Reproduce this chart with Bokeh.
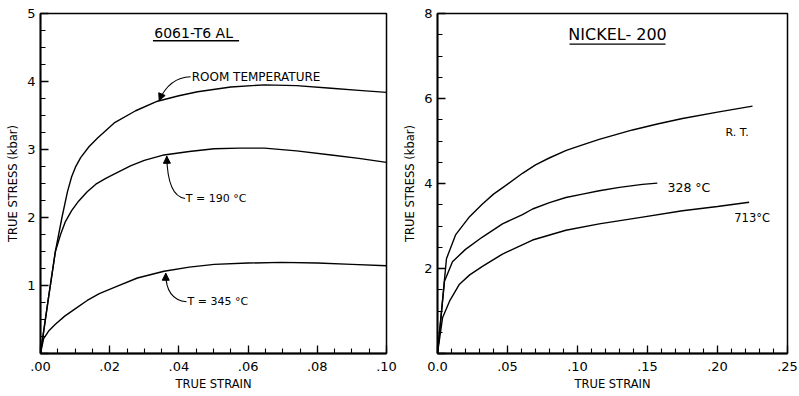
from bokeh.plotting import figure
from bokeh.layouts import row
from bokeh.models import Range1d, FixedTicker, Label, Arrow, NormalHead
from bokeh.embed import file_html
from bokeh.resources import INLINE

FONT = "DejaVu Sans"

# ---------------- data: 6061-T6 aluminium ----------------
al_rt_strain = [0, 0.0022, 0.0043, 0.0062, 0.0078, 0.0090, 0.0101, 0.0116, 0.0140, 0.0165,
                0.0213, 0.0275, 0.0338, 0.0400, 0.0454, 0.0550, 0.0647, 0.0740, 0.0840,
                0.0920, 0.1000]
al_rt_stress = [0, 0.78, 1.50, 2.00, 2.38, 2.60, 2.74, 2.88, 3.04, 3.17,
                3.39, 3.57, 3.71, 3.79, 3.85, 3.92, 3.95, 3.94, 3.90,
                3.87, 3.84]

al_190_strain = [0, 0.0022, 0.0043, 0.0058, 0.0072, 0.0090, 0.0110, 0.0135, 0.0160, 0.0190,
                 0.0217, 0.0260, 0.0300, 0.0357, 0.0430, 0.0502, 0.0575, 0.0647, 0.0740,
                 0.0840, 0.0920, 0.1000]
al_190_stress = [0, 0.78, 1.50, 1.75, 1.94, 2.10, 2.24, 2.38, 2.49, 2.58,
                 2.65, 2.76, 2.84, 2.92, 2.97, 3.01, 3.02, 3.02, 2.98,
                 2.92, 2.87, 2.81]

al_345_strain = [0, 0.0009, 0.0025, 0.0043, 0.0070, 0.0101, 0.0135, 0.0170, 0.0217, 0.0280,
                 0.0357, 0.0430, 0.0502, 0.0600, 0.0696, 0.0800, 0.0900, 0.1000]
al_345_stress = [0, 0.22, 0.34, 0.43, 0.55, 0.66, 0.78, 0.88, 0.98, 1.11,
                 1.21, 1.27, 1.31, 1.33, 1.34, 1.33, 1.31, 1.29]

al_x_ticks = [0, 0.02, 0.04, 0.06, 0.08, 0.10]
al_x_labels = [".00", ".02", ".04", ".06", ".08", ".10"]
al_y_ticks = [0, 1, 2, 3, 4, 5]
al_y_labels = ["", "1", "2", "3", "4", "5"]

# ---------------- data: Nickel-200 ----------------
ni_rt_strain = [0, 0.0030, 0.0064, 0.0129, 0.0229, 0.0321, 0.0400, 0.0486, 0.0607, 0.0700,
                0.0798, 0.0920, 0.1036, 0.1155, 0.1274, 0.1393, 0.1570, 0.1750, 0.2000, 0.2250]
ni_rt_stress = [0, 1.05, 2.23, 2.79, 3.22, 3.52, 3.75, 3.95, 4.24, 4.44,
                4.60, 4.78, 4.91, 5.04, 5.15, 5.26, 5.40, 5.53, 5.68, 5.82]

ni_328_strain = [0, 0.0025, 0.0050, 0.0107, 0.0200, 0.0321, 0.0464, 0.0607, 0.0679, 0.0800,
                 0.0917, 0.1036, 0.1155, 0.1300, 0.1464, 0.1570]
ni_328_stress = [0, 0.85, 1.70, 2.16, 2.45, 2.74, 3.05, 3.27, 3.40, 3.55,
                 3.67, 3.75, 3.83, 3.91, 3.98, 4.01]

ni_713_strain = [0, 0.0036, 0.0086, 0.0157, 0.0230, 0.0321, 0.0464, 0.0679, 0.0917, 0.1155,
                 0.1464, 0.1750, 0.2000, 0.2226]
ni_713_stress = [0, 0.84, 1.23, 1.63, 1.85, 2.05, 2.34, 2.67, 2.90, 3.05,
                 3.21, 3.36, 3.46, 3.56]

ni_x_ticks = [0, 0.05, 0.10, 0.15, 0.20, 0.25]
ni_x_labels = ["0.0", ".05", ".10", ".15", ".20", ".25"]
ni_y_ticks = [0, 2, 4, 6, 8]
ni_y_labels = ["", "2", "4", "6", "8"]


def base_fig(xr, yr, fw, bl, br):
    p = figure(x_range=Range1d(*xr), y_range=Range1d(*yr),
               frame_width=fw, frame_height=340,
               min_border_left=bl, min_border_right=br,
               min_border_top=13, min_border_bottom=43,
               output_backend="svg", toolbar_location=None,
               background_fill_color="white", border_fill_color="white")
    p.grid.visible = False
    p.outline_line_color = "black"
    p.outline_line_width = 1.5
    p.outline_line_alpha = 1.0
    for ax in (p.xaxis[0], p.yaxis[0]):
        ax.axis_line_width = 1.8
        ax.axis_line_color = "black"
        ax.major_tick_in = 8
        ax.major_tick_out = 0
        ax.minor_tick_in = 5
        ax.minor_tick_out = 0
        ax.major_tick_line_width = 1.3
        ax.minor_tick_line_width = 1.1
        ax.major_label_text_font = FONT
        ax.major_label_text_font_size = "13px"
        ax.major_label_text_color = "black"
        ax.axis_label_text_font = FONT
        ax.axis_label_text_font_size = "11.5px"
        ax.axis_label_text_font_style = "normal"
        ax.axis_label_text_color = "black"
    p.xaxis.major_label_standoff = 8
    p.xaxis.axis_label_standoff = 3
    p.yaxis.major_label_standoff = 5
    p.yaxis.axis_label_standoff = 4
    p.xaxis.axis_label = "TRUE STRAIN"
    p.yaxis.axis_label = "TRUE STRESS (kbar)"
    return p


def minor_list(lo, hi, step):
    n = int(round((hi - lo) / step))
    return [round(lo + i * step, 6) for i in range(n + 1)]


# ---------------- left panel ----------------
p1 = base_fig((0, 0.10), (0, 5), 346, 40, 14)
p1.xaxis.ticker = FixedTicker(ticks=al_x_ticks, minor_ticks=minor_list(0, 0.10, 0.005))
p1.yaxis.ticker = FixedTicker(ticks=al_y_ticks, minor_ticks=minor_list(0, 5, 0.25))
p1.xaxis.major_label_overrides = dict(zip(al_x_ticks, al_x_labels))
p1.yaxis.major_label_overrides = dict(zip(al_y_ticks, al_y_labels))

for xs, ys in ((al_rt_strain, al_rt_stress), (al_190_strain, al_190_stress),
               (al_345_strain, al_345_stress)):
    p1.line(xs, ys, line_color="black", line_width=1.4)

# title with underline
p1.add_layout(Label(x=0.0449, y=4.71, text="6061-T6  AL", text_align="center",
                    text_baseline="middle", text_font=FONT, text_font_size="14px",
                    text_color="black"))
p1.segment(x0=[0.0325], y0=[4.60], x1=[0.0574], y1=[4.60], line_color="black", line_width=1.4)

# annotations: (text, text_x, text_y, tail_x, tail_y, ctrl_x, ctrl_y, head_x, head_y)
al_notes = [
    ("ROOM TEMPERATURE", 0.0437, 4.07, 0.0434, 4.07, 0.0372, 4.06, 0.0343, 3.72),
    ("T = 190 °C", 0.0420, 2.28, 0.0418, 2.28, 0.0367, 2.31, 0.0365, 2.90),
    ("T = 345 °C", 0.0425, 0.76, 0.0422, 0.76, 0.0362, 0.79, 0.0362, 1.18),
]
note_sizes = ["12px", "11px", "11px"]
for (txt, tx, ty, x0, y0, cx, cy, hx, hy), fs in zip(al_notes, note_sizes):
    p1.add_layout(Label(x=tx, y=ty, text=txt, text_align="left", text_baseline="middle",
                        text_font=FONT, text_font_size=fs, text_color="black"))
    p1.quadratic(x0=[x0], y0=[y0], x1=[hx], y1=[hy], cx=[cx], cy=[cy],
                 line_color="black", line_width=1.1)
    p1.add_layout(Arrow(x_start=cx, y_start=cy, x_end=hx, y_end=hy, line_alpha=0,
                        end=NormalHead(size=7, fill_color="black", line_color="black")))

# ---------------- right panel ----------------
p2 = base_fig((0, 0.25), (0, 8), 350, 35, 14)
p2.xaxis.ticker = FixedTicker(ticks=ni_x_ticks, minor_ticks=minor_list(0, 0.25, 0.01))
p2.yaxis.ticker = FixedTicker(ticks=ni_y_ticks, minor_ticks=minor_list(0, 8, 0.5))
p2.xaxis.major_label_overrides = dict(zip(ni_x_ticks, ni_x_labels))
p2.yaxis.major_label_overrides = dict(zip(ni_y_ticks, ni_y_labels))

for xs, ys in ((ni_rt_strain, ni_rt_stress), (ni_328_strain, ni_328_stress),
               (ni_713_strain, ni_713_stress)):
    p2.line(xs, ys, line_color="black", line_width=1.4)

p2.add_layout(Label(x=0.1286, y=7.51, text="NICKEL- 200", text_align="center",
                    text_baseline="middle", text_font=FONT, text_font_size="16px",
                    text_color="black"))
p2.segment(x0=[0.0943], y0=[7.28], x1=[0.1629], y1=[7.28], line_color="black", line_width=1.4)

ni_notes = [("R. T.", 0.2057, 5.19), ("328 °C", 0.1643, 3.90), ("713°C", 0.2120, 3.19)]
ni_sizes = ["11px", "12.5px", "11.5px"]
for (txt, tx, ty), fs in zip(ni_notes, ni_sizes):
    p2.add_layout(Label(x=tx, y=ty, text=txt, text_align="left", text_baseline="middle",
                        text_font=FONT, text_font_size=fs, text_color="black"))

layout = row(p1, p2)
open("out.html", "w").write(file_html(layout, INLINE))
